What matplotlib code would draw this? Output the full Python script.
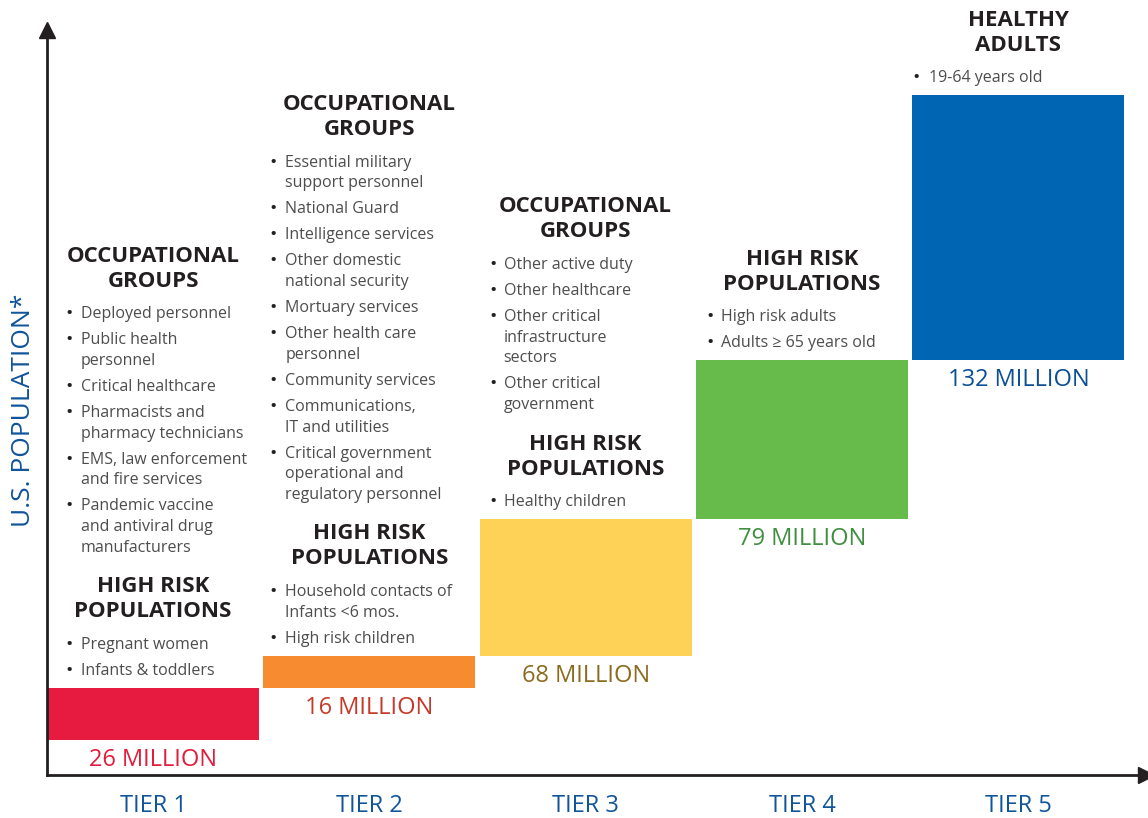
import matplotlib.pyplot as plt
import numpy as np

tiers = ["TIER 1", "TIER 2", "TIER 3", "TIER 4", "TIER 5"]
population = [26, 16, 68, 79, 132]  # millions
value_labels = ["26 MILLION", "16 MILLION", "68 MILLION", "79 MILLION", "132 MILLION"]
bar_colors = ["#e61b3f", "#f68b2f", "#fdd257", "#66bb4a", "#0066b3"]
value_colors = ["#e21c3b", "#c53a2a", "#8b6b1e", "#3f8f3f", "#0c4f95"]

tier1_groups = [
    ("OCCUPATIONAL\nGROUPS", ["Deployed personnel", "Public health\npersonnel",
                              "Critical healthcare", "Pharmacists and\npharmacy technicians",
                              "EMS, law enforcement\nand fire services",
                              "Pandemic vaccine\nand antiviral drug\nmanufacturers"]),
    ("HIGH RISK\nPOPULATIONS", ["Pregnant women", "Infants & toddlers"]),
]
tier2_groups = [
    ("OCCUPATIONAL\nGROUPS", ["Essential military\nsupport personnel", "National Guard",
                              "Intelligence services", "Other domestic\nnational security",
                              "Mortuary services", "Other health care\npersonnel",
                              "Community services", "Communications,\nIT and utilities",
                              "Critical government\noperational and\nregulatory personnel"]),
    ("HIGH RISK\nPOPULATIONS", ["Household contacts of\nInfants <6 mos.", "High risk children"]),
]
tier3_groups = [
    ("OCCUPATIONAL\nGROUPS", ["Other active duty", "Other healthcare",
                              "Other critical\ninfrastructure\nsectors",
                              "Other critical\ngovernment"]),
    ("HIGH RISK\nPOPULATIONS", ["Healthy children"]),
]
tier4_groups = [
    ("HIGH RISK\nPOPULATIONS", ["High risk adults", "Adults \u2265 65 years old"]),
]
tier5_groups = [
    ("HEALTHY\nADULTS", ["19-64 years old"]),
]
groups = [tier1_groups, tier2_groups, tier3_groups, tier4_groups, tier5_groups]

plt.rcParams['font.family'] = ['Open Sans', 'DejaVu Sans']
dark = "#231f20"
grey = "#4d4d4f"
blue = "#10549a"

fig = plt.figure(figsize=(11.48, 8.18), dpi=100)
ax = fig.add_axes([47 / 1148, 43 / 818, (1146 - 47) / 1148, (775 - 30) / 818])

x = np.arange(len(tiers))
bottoms = np.concatenate([[0], np.cumsum(population)[:-1]])
tops = bottoms + np.array(population)
ax.bar(x, population, bottom=bottoms, width=0.98, color=bar_colors)

ax.set_xlim(-0.49, 4.59)
ax.set_ylim(-17.4, 353.4)

for s in ["top", "right"]:
    ax.spines[s].set_visible(False)
for s in ["left", "bottom"]:
    ax.spines[s].set_linewidth(2)
    ax.spines[s].set_color(dark)
ax.plot(0, 1, marker="^", color=dark, markersize=11, transform=ax.transAxes, clip_on=False)
ax.plot(1, 0, marker=">", color=dark, markersize=11, transform=ax.transAxes, clip_on=False)

ax.set_yticks([])
ax.set_xticks(x, tiers)
ax.tick_params(axis="x", length=0, pad=14, labelsize=17, labelcolor=blue)

fig.text(24 / 1148, 1 - 410 / 818, "U.S. POPULATION*", rotation=90, color=blue,
         fontsize=19, ha="center", va="center")

# value labels under each bar
for xi, b, lab, c in zip(x, bottoms, value_labels, value_colors):
    ax.annotate(lab, (xi, b), xytext=(0, -20), textcoords="offset pixels",
                ha="center", va="center", fontsize=17, color=c)

# text blocks stacked upward from each bar top
bullet_dx = [-84, -96, -93, -92, -102]
text_dx = [-72, -84, -82, -81, -89]
for xi, top, sections, bdx, tdx in zip(x, tops, groups, bullet_dx, text_dx):
    y = 17
    for si, (heading, items) in enumerate(reversed(sections)):
        if si > 0:
            y += 39
        for ii, item in enumerate(reversed(items)):
            if ii > 0:
                y += 26
            lines = item.split("\n")
            for li, line in enumerate(reversed(lines)):
                if li > 0:
                    y += 20.7
                ax.annotate(line, (xi, top), xytext=(tdx, y), textcoords="offset pixels",
                            ha="left", va="center", fontsize=11.5, color=grey)
            ax.annotate("\u2022", (xi, top), xytext=(bdx, y), textcoords="offset pixels",
                        ha="center", va="center", fontsize=14, color=dark)
        y += 33
        hl = heading.split("\n")
        for li, line in enumerate(reversed(hl)):
            if li > 0:
                y += 25
            ax.annotate(line, (xi, top), xytext=(0, y), textcoords="offset pixels",
                        ha="center", va="center", fontsize=16, fontweight="bold", color=dark)

fig.savefig("out.png", dpi=100)
